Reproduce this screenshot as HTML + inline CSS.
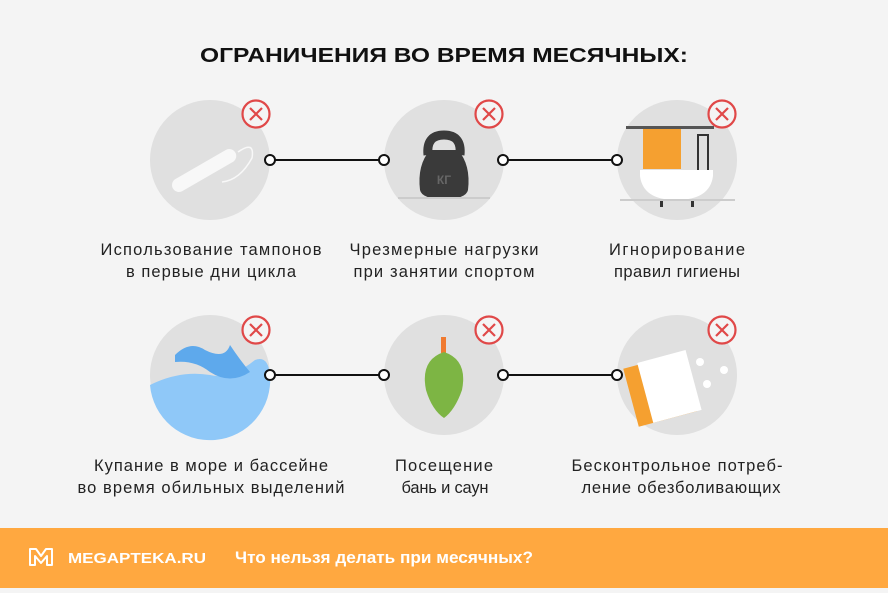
<!DOCTYPE html>
<html><head><meta charset="utf-8"><style>
body{margin:0;width:888px;height:588px;overflow:hidden;background:#f4f4f4;font-family:"Liberation Sans","Noto Sans CJK SC",sans-serif}
</style></head><body>
<svg width="888" height="588" viewBox="0 0 888 588" xmlns="http://www.w3.org/2000/svg" font-family="Liberation Sans, sans-serif">
<rect width="888" height="588" fill="#f4f4f4"/>
<text x="444" y="62" text-anchor="middle" font-size="20" font-weight="bold" textLength="488" lengthAdjust="spacingAndGlyphs" fill="#111">ОГРАНИЧЕНИЯ ВО ВРЕМЯ МЕСЯЧНЫХ:</text>
<g fill="#e0e0e0">
<circle cx="210" cy="160" r="60"/><circle cx="444" cy="160" r="60"/><circle cx="677" cy="160" r="60"/>
<circle cx="210" cy="375" r="60"/><circle cx="444" cy="375" r="60"/><circle cx="677" cy="375" r="60"/>
</g>
<g transform="rotate(-30 205 170)"><rect x="168" y="163" width="72" height="14" rx="7" fill="#f8f8f8"/></g>
<path d="M238 152 Q255 140 252 158 Q240 180 222 182" fill="none" stroke="#f8f8f8" stroke-width="1.5"/>
<path d="M428 155 Q426 135 444 135 Q462 135 460 155" fill="none" stroke="#3a3a3a" stroke-width="9"/>
<path d="M430 150 Q417 165 420 190 Q422 199 444 199 Q466 199 468 190 Q471 165 458 150 Z" fill="#3a3a3a"/>
<text x="444" y="184" text-anchor="middle" font-size="12" font-weight="bold" fill="#666">КГ</text>
<line x1="398" y1="198" x2="490" y2="198" stroke="#ccc" stroke-width="2"/>
<rect x="626" y="126" width="88" height="3" fill="#555"/>
<rect x="643" y="129" width="38" height="40" fill="#f5a030"/>
<path d="M698 170 V135 H708 V170" fill="none" stroke="#333" stroke-width="2"/>
<path d="M640 170 H713 V176 Q710 200 676 200 Q643 200 640 176 Z" fill="#fff"/>
<rect x="660" y="199" width="3" height="8" fill="#333"/><rect x="691" y="199" width="3" height="8" fill="#333"/>
<line x1="620" y1="200" x2="735" y2="200" stroke="#ccc" stroke-width="2"/>
<path d="M150 385 Q180 370 210 375 Q230 380 255 360 Q268 355 270 375 A60 60 0 0 1 150 385 Z" fill="#8fc8f8"/>
<path d="M175 355 Q190 340 205 350 Q225 360 230 345 Q240 360 250 372 Q230 385 210 372 Q195 360 175 362 Z" fill="#5ea9ec"/>
<rect x="441" y="337" width="5" height="16" fill="#f07a30"/>
<path d="M444 352 Q468 360 462 390 Q455 410 444 418 Q432 410 426 390 Q420 360 444 352 Z" fill="#7db544"/>
<g transform="rotate(-15 660 390)"><rect x="630" y="360" width="60" height="60" fill="#f5a030"/><rect x="645" y="358" width="50" height="62" fill="#fff"/></g>
<circle cx="700" cy="362" r="4" fill="#fff"/><circle cx="724" cy="370" r="4" fill="#fff"/><circle cx="707" cy="384" r="4" fill="#fff"/>
<g stroke="#111" stroke-width="2" fill="#fff">
<line x1="270" y1="160" x2="384" y2="160"/><line x1="503" y1="160" x2="617" y2="160"/>
<line x1="270" y1="375" x2="384" y2="375"/><line x1="503" y1="375" x2="617" y2="375"/>
<circle cx="270" cy="160" r="5"/><circle cx="384" cy="160" r="5"/><circle cx="503" cy="160" r="5"/><circle cx="617" cy="160" r="5"/>
<circle cx="270" cy="375" r="5"/><circle cx="384" cy="375" r="5"/><circle cx="503" cy="375" r="5"/><circle cx="617" cy="375" r="5"/>
</g>
<g stroke="#e04848" stroke-width="2.2" fill="#f4f4f4">
<g id="x"><circle cx="256" cy="114" r="13.5"/><path d="M250 108 L262 120 M262 108 L250 120" fill="none"/></g>
<use href="#x" x="233"/><use href="#x" x="466"/>
<use href="#x" y="216"/><use href="#x" x="233" y="216"/><use href="#x" x="466" y="216"/>
</g>
<g font-size="16.5" fill="#222" text-anchor="middle" lengthAdjust="spacingAndGlyphs">
<text x="211" y="255" textLength="221">Использование тампонов</text><text x="211" y="277" textLength="170">в первые дни цикла</text>
<text x="444" y="255" textLength="189">Чрезмерные нагрузки</text><text x="444" y="277" textLength="181">при занятии спортом</text>
<text x="677" y="255" textLength="136">Игнорирование</text><text x="677" y="277" textLength="126">правил гигиены</text>
<text x="211" y="471" textLength="234">Купание в море и бассейне</text><text x="211" y="493" textLength="267">во время обильных выделений</text>
<text x="444" y="471" textLength="98">Посещение</text><text x="445" y="493" textLength="87">бань и саун</text>
<text x="677" y="471" textLength="211">Бесконтрольное потреб-</text><text x="681" y="493" textLength="199">ление обезболивающих</text>
</g>
<rect x="0" y="528" width="888" height="60" fill="#ffa840"/>
<path d="M30 549 L36 549 L41 556 L46 549 L52 549 L52 565 L47 565 L47 556 L41 563 L35 556 L35 565 L30 565 Z" fill="none" stroke="#fff" stroke-width="2" stroke-linejoin="round"/>
<text x="68" y="563" font-size="15" font-weight="bold" textLength="138" lengthAdjust="spacingAndGlyphs" fill="#fff">MEGAPTEKA.RU</text>
<text x="235" y="563" font-size="16.5" font-weight="bold" textLength="298" lengthAdjust="spacingAndGlyphs" fill="#fff">Что нельзя делать при месячных?</text>
</svg>
</body></html>
